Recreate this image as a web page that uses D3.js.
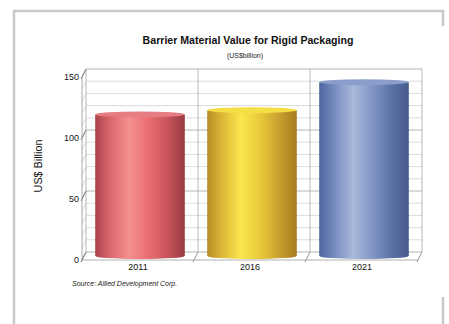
<!DOCTYPE html>
<html><head><meta charset="utf-8">
<script src="https://cdn.jsdelivr.net/npm/d3@7"></script>
<style>html,body{margin:0;padding:0;background:#fff;}svg{display:block;font-family:"Liberation Sans",Arial,sans-serif;}</style>
</head><body>
<script>
const categories = ["2011", "2016", "2021"];
const values = [116, 119.5, 142.5];
const yTicks = [0, 50, 100, 150];
const gridStep = [0,10,20,30,40,50,60,70,80,90,100,110,120,130,140,150];
const title = "Barrier Material Value for Rigid Packaging";
const subtitle = "(US$billion)";
const yLabel = "US$ Billion";
const source = "Source: Allied Development Corp.";
const palettes = [
  {stops:["#a9424a","#d8636a","#f59090","#ea6c70","#c8565c","#963a40"], top:"#e67d82"},
  {stops:["#b88a25","#d8b436","#fbe84e","#e8c83a","#c9a030","#a87a20"], top:"#f5dd45"},
  {stops:["#4d659c","#7088bc","#a9b9db","#7f95c4","#5d74a8","#465a8a"], top:"#8b9ecb"}
];

const W = 449, H = 324;
const svg = d3.select("body").append("svg").attr("width", W).attr("height", H);

// depth offset
const DX = 4, DY = -8;
const y = d3.scaleLinear().domain([0, 150]).range([260, 77]);
const x = d3.scaleBand().domain(categories).range([82, 418]).paddingInner(0).paddingOuter(0);

// frame
const frame = "#c8c8c8";
svg.append("line").attr("x1",13).attr("x2",444).attr("y1",11).attr("y2",11).attr("stroke",frame).attr("stroke-width",2.5);
svg.append("line").attr("x1",14).attr("x2",14).attr("y1",10).attr("y2",324).attr("stroke",frame).attr("stroke-width",2.5);
svg.append("line").attr("x1",443).attr("x2",443).attr("y1",10).attr("y2",26).attr("stroke",frame).attr("stroke-width",2.5);
svg.append("line").attr("x1",443).attr("x2",443).attr("y1",297).attr("y2",324).attr("stroke",frame).attr("stroke-width",2.5);

// titles
svg.append("text").attr("x",248).attr("y",44).attr("text-anchor","middle")
  .attr("font-size",10.6).attr("font-weight","bold").attr("fill","#111").text(title);
svg.append("text").attr("x",245).attr("y",58).attr("text-anchor","middle")
  .attr("font-size",7).attr("fill","#222").text(subtitle);

const g = svg.append("g");
const x0 = x.range()[0], x1 = x.range()[1];

// back wall gridlines
gridStep.forEach(v => {
  const major = v % 50 === 0;
  g.append("line").attr("x1", x0 + DX).attr("x2", x1 + DX)
    .attr("y1", y(v) + DY).attr("y2", y(v) + DY)
    .attr("stroke", major ? "#b4b4b4" : "#dcdcdc").attr("stroke-width", 1);
  // left side wall
  g.append("line").attr("x1", x0).attr("x2", x0 + DX)
    .attr("y1", y(v)).attr("y2", y(v) + DY)
    .attr("stroke", major ? "#9a9a9a" : "#dcdcdc").attr("stroke-width", 1);
});
// back wall verticals
const edges = categories.map(c => x(c)).concat([x1]);
edges.forEach(e => {
  g.append("line").attr("x1", e + DX).attr("x2", e + DX)
    .attr("y1", y(0) + DY).attr("y2", y(150) + DY)
    .attr("stroke", "#b8b8b8").attr("stroke-width", 1);
});
// left wall front vertical
g.append("line").attr("x1", x0).attr("x2", x0).attr("y1", y(0)).attr("y2", y(150))
  .attr("stroke", "#a8a8a8").attr("stroke-width", 1);
// floor
g.append("line").attr("x1", x0).attr("x2", x1).attr("y1", y(0)).attr("y2", y(0))
  .attr("stroke", "#b0b0b0").attr("stroke-width", 1);
edges.forEach(e => {
  g.append("line").attr("x1", e - 1).attr("x2", e + DX)
    .attr("y1", y(0) + 2).attr("y2", y(0) + DY)
    .attr("stroke", "#9a9a9a").attr("stroke-width", 1);
});
// y tick diagonals
yTicks.forEach(v => {
  g.append("line").attr("x1", x0 - 1).attr("x2", x0 + DX)
    .attr("y1", y(v) + 2).attr("y2", y(v) + DY)
    .attr("stroke", "#888").attr("stroke-width", 1);
});

// y tick labels
svg.append("g").selectAll("text").data(yTicks).join("text")
  .attr("x", 79).attr("y", d => y(d) + 3).attr("text-anchor", "end")
  .attr("font-size", 9).attr("fill", "#111").text(d => d);

// category labels
svg.append("g").selectAll("text").data(categories).join("text")
  .attr("x", d => x(d) + x.bandwidth() / 2).attr("y", 270).attr("text-anchor", "middle")
  .attr("font-size", 9).attr("fill", "#111").text(d => d);

// y axis label
svg.append("text").attr("transform", "translate(42,166) rotate(-90)")
  .attr("text-anchor", "middle").attr("font-size", 10.8).attr("fill", "#111").text(yLabel);

// source
svg.append("text").attr("x", 72).attr("y", 286).attr("font-size", 7).attr("font-style", "italic")
  .attr("fill", "#222").text(source);

// gradients
const defs = svg.append("defs");
palettes.forEach((p, i) => {
  const lg = defs.append("linearGradient").attr("id", "cyl" + i)
    .attr("x1", "0%").attr("x2", "100%").attr("y1", "0%").attr("y2", "0%");
  const offs = [0, 0.15, 0.38, 0.6, 0.8, 1];
  p.stops.forEach((c, j) => lg.append("stop").attr("offset", offs[j]).attr("stop-color", c));
});

// cylinders (at mid depth)
const mdx = DX / 2, mdy = DY / 2;
const bw = x.bandwidth() * 0.8;
const rx = bw / 2, ry = 3;
const bars = svg.append("g");
categories.forEach((c, i) => {
  const cx = x(c) + x.bandwidth() / 2 + mdx;
  const yb = y(0) + mdy, yt = y(values[i]) + mdy;
  const path = `M${cx - rx},${yt} L${cx - rx},${yb} A${rx},${ry} 0 0 0 ${cx + rx},${yb} L${cx + rx},${yt} Z`;
  bars.append("path").attr("d", path).attr("fill", `url(#cyl${i})`);
  bars.append("ellipse").attr("cx", cx).attr("cy", yt).attr("rx", rx).attr("ry", ry)
    .attr("fill", palettes[i].top);
});
</script>
</body></html>
